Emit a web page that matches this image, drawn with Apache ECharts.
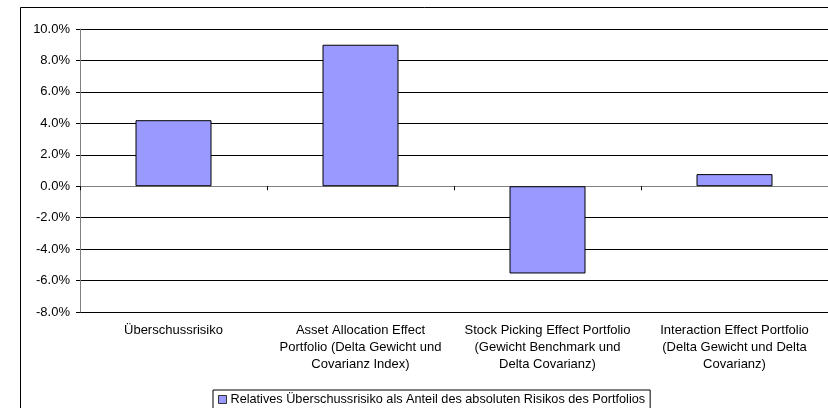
<!DOCTYPE html>
<html>
<head>
<meta charset="utf-8">
<script src="https://cdn.jsdelivr.net/npm/echarts@6/dist/echarts.min.js"></script>
<style>
  html, body { margin: 0; padding: 0; background: #fff; }
  #chart { width: 828px; height: 408px; }
</style>
</head>
<body>
<div id="chart"></div>
<script>
// Risk decomposition: relative excess risk as a share of total portfolio risk (in %)
const categories = [
  'Überschussrisiko',
  'Asset Allocation Effect\nPortfolio (Delta Gewicht und\nCovarianz Index)',
  'Stock Picking Effect Portfolio\n(Gewicht Benchmark und\nDelta Covarianz)',
  'Interaction Effect Portfolio\n(Delta Gewicht und Delta\nCovarianz)'
];
const seriesName = 'Relatives Überschussrisiko als Anteil des absoluten Risikos des Portfolios';
const values = [4.2, 9.0, -5.55, 0.77];
const yMin = -8;
const yMax = 10;
const yStep = 2;

const FONT = '"Liberation Sans", Arial, sans-serif';

const chart = echarts.init(document.getElementById('chart'), null, { renderer: 'canvas' });

chart.setOption({
  backgroundColor: '#ffffff',
  animation: false,
  textStyle: { fontFamily: FONT },
  // chart-area frame (left and top edges fall inside the canvas)
  graphic: [{
    type: 'line',
    shape: { x1: 20.5, y1: 7.5, x2: 828, y2: 7.5 },
    style: { stroke: '#000', lineWidth: 1 },
    silent: true
  }, {
    type: 'line',
    shape: { x1: 20.5, y1: 7.5, x2: 20.5, y2: 408 },
    style: { stroke: '#000', lineWidth: 1 },
    silent: true
  }],
  grid: { left: 80, right: 0, top: 29, bottom: 96, containLabel: false },
  legend: {
    data: [seriesName],
    left: 213,
    top: 390,
    icon: 'rect',
    itemWidth: 8,
    itemHeight: 8,
    itemGap: 4,
    padding: [3, 5, 3, 5],
    borderColor: '#000',
    borderWidth: 1,
    textStyle: { fontFamily: FONT, fontSize: 12.7, color: '#000', padding: [0, 0, 0, -1] },
    itemStyle: { borderColor: '#333', borderWidth: 1 }
  },
  xAxis: [{
    type: 'category',
    data: categories,
    axisLine: { onZero: true, lineStyle: { color: '#808080', width: 1 } },
    axisTick: { show: true, interval: 0, length: 4, inside: false, lineStyle: { color: '#000' } },
    axisLabel: { show: false },
    splitLine: { show: false }
  }, {
    type: 'category',
    data: categories,
    position: 'bottom',
    axisLine: { show: false, onZero: false },
    axisTick: { show: false },
    axisLabel: {
      show: true,
      interval: 0,
      margin: 10,
      fontFamily: FONT,
      fontSize: 13,
      lineHeight: 17,
      color: '#000',
      align: 'center'
    }
  }],
  yAxis: {
    type: 'value',
    min: yMin,
    max: yMax,
    interval: yStep,
    axisLine: { show: true, lineStyle: { color: '#808080', width: 1 } },
    axisTick: { show: true, length: 4, lineStyle: { color: '#000' } },
    axisLabel: {
      margin: 10,
      fontFamily: FONT,
      fontSize: 13,
      color: '#000',
      formatter: v => v.toFixed(1) + '%'
    },
    splitLine: { show: true, lineStyle: { color: '#000', width: 1 } }
  },
  series: [{
    name: seriesName,
    type: 'bar',
    xAxisIndex: 0,
    data: values,
    barWidth: 76,
    itemStyle: { color: '#9999FF', borderColor: '#000', borderWidth: 1 }
  }]
});
</script>
</body>
</html>
